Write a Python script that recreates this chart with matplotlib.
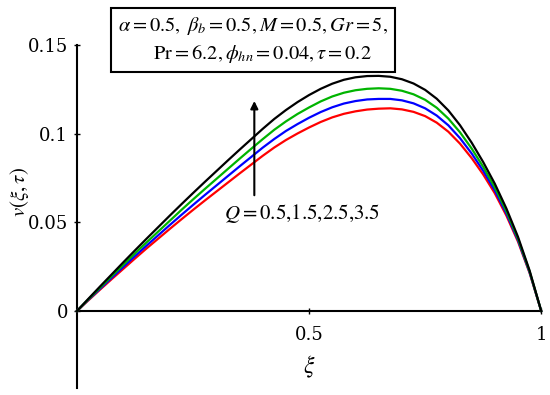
import matplotlib
matplotlib.use("Agg")
import matplotlib.pyplot as plt

plt.rcParams["mathtext.fontset"] = "stix"
plt.rcParams["font.family"] = ["Liberation Serif", "DejaVu Serif"]

# ---------------------------------------------------------------------------
# Data (xi step 0.025)
# ---------------------------------------------------------------------------
xi = [i * 0.025 for i in range(41)]

v_q35 = [0.0000, 0.0070, 0.0139, 0.0207, 0.0275, 0.0342, 0.0408, 0.0473,
         0.0538, 0.0602, 0.0665, 0.0727, 0.0788, 0.0849, 0.0909, 0.0968,
         0.1027, 0.1083, 0.1133, 0.1178, 0.1218, 0.1253, 0.1282, 0.1304,
         0.1318, 0.1325, 0.1326, 0.1321, 0.1307, 0.1283, 0.1247, 0.1197,
         0.1131, 0.1048, 0.0950, 0.0840, 0.0718, 0.0578, 0.0418, 0.0228,
         0.0000]
v_q25 = [0.0000, 0.0067, 0.0132, 0.0197, 0.0261, 0.0325, 0.0387, 0.0448,
         0.0509, 0.0570, 0.0629, 0.0687, 0.0744, 0.0801, 0.0858, 0.0914,
         0.0969, 0.1022, 0.1069, 0.1111, 0.1148, 0.1182, 0.1210, 0.1231,
         0.1245, 0.1253, 0.1256, 0.1253, 0.1242, 0.1222, 0.1191, 0.1146,
         0.1085, 0.1008, 0.0917, 0.0813, 0.0697, 0.0563, 0.0408, 0.0223,
         0.0000]
v_q15 = [0.0000, 0.0064, 0.0126, 0.0188, 0.0249, 0.0310, 0.0369, 0.0427,
         0.0485, 0.0542, 0.0598, 0.0653, 0.0707, 0.0761, 0.0815, 0.0868,
         0.0921, 0.0970, 0.1015, 0.1054, 0.1090, 0.1122, 0.1149, 0.1170,
         0.1184, 0.1193, 0.1196, 0.1196, 0.1188, 0.1171, 0.1143, 0.1102,
         0.1047, 0.0975, 0.0889, 0.0791, 0.0680, 0.0550, 0.0399, 0.0218,
         0.0000]
v_q05 = [0.0000, 0.0061, 0.0121, 0.0180, 0.0238, 0.0296, 0.0353, 0.0408,
         0.0463, 0.0517, 0.0570, 0.0622, 0.0673, 0.0724, 0.0775, 0.0825,
         0.0875, 0.0922, 0.0964, 0.1001, 0.1035, 0.1066, 0.1092, 0.1112,
         0.1126, 0.1136, 0.1141, 0.1143, 0.1137, 0.1123, 0.1099, 0.1062,
         0.1011, 0.0944, 0.0863, 0.0770, 0.0664, 0.0538, 0.0391, 0.0214,
         0.0000]

series = [v_q05, v_q15, v_q25, v_q35]
colors = ["#ff0000", "#0000ff", "#00b400", "#000000"]

y_ticks = [0, 0.05, 0.1, 0.15]
y_tick_labels = ["0", "0.05", "0.1", "0.15"]
x_ticks = [0.5, 1.0]
x_tick_labels = ["0.5", "1"]


fig = plt.figure(figsize=(5.5, 3.95), dpi=100)
ax = fig.add_axes([0.140, 0.018, 0.844, 0.868])

for vals, col in zip(series, colors):
    ax.plot(xi, vals, color=col, lw=1.6, clip_on=False, zorder=3,
            solid_joinstyle="round")

ax.set_xlim(0, 1)
ax.set_ylim(-0.0434, 0.15)

ax.spines["top"].set_visible(False)
ax.spines["right"].set_visible(False)
ax.spines["bottom"].set_position(("data", 0))
ax.spines["left"].set_linewidth(1.5)
ax.spines["bottom"].set_linewidth(1.5)

ax.set_yticks(y_ticks)
ax.set_yticklabels(y_tick_labels)
ax.set_xticks(x_ticks)
ax.set_xticklabels(x_tick_labels)
ax.tick_params(axis="both", direction="inout", length=5, width=1,
               labelsize=13)
for lab in ax.get_xticklabels() + ax.get_yticklabels():
    lab.set_family("DejaVu Serif")
ax.tick_params(axis="y", pad=4)
ax.tick_params(axis="x", pad=8)

ax.text(0.5, -0.0315, r"$\xi$", fontsize=17, ha="center", va="center")
fig.text(0.036, 0.514, r"$v(\xi,\tau)$", fontsize=15, rotation=90,
         ha="center", va="center")

# parameter box
box_text = (r"$\alpha=0.5,\ \beta_b=0.5, M=0.5, Gr=5,$" + "\n"
            + r"$\quad\ \mathrm{Pr}=6.2, \phi_{hn}=0.04, \tau=0.2$")
fig.text(0.460, 0.899, box_text, fontsize=14.7, ha="center", va="center",
         linespacing=1.4,
         bbox=dict(boxstyle="square,pad=0.32", fc="white", ec="black", lw=1.5))

# arrow showing the Q direction
ax.annotate("", xy=(0.382, 0.120), xytext=(0.382, 0.0637),
            arrowprops=dict(arrowstyle="-|>", color="black", lw=1.5,
                            mutation_scale=11))
ax.text(0.317, 0.0552, r"$Q=0.5{,}1.5{,}2.5{,}3.5$", fontsize=15,
        ha="left", va="center")

fig.savefig("out.png", dpi=100)
